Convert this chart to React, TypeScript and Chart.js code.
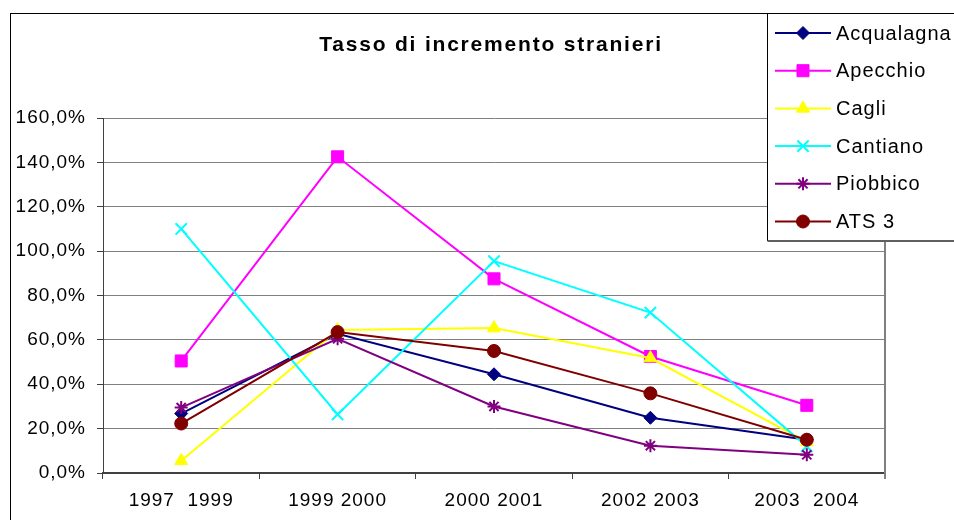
import React, { useEffect, useRef } from 'react';
import { Chart, registerables } from 'chart.js';
import { drawPoint } from 'chart.js/helpers';

Chart.register(...registerables);

const categories = ['1997  1999', '1999 2000', '2000 2001', '2002 2003', '2003  2004'];
const seriesNames = ['Acqualagna', 'Apecchio', 'Cagli', 'Cantiano', 'Piobbico', 'ATS 3'];
const acqualagna = [26.8, 62.7, 44.5, 24.9, 15.0];
const apecchio = [50.5, 142.5, 87.5, 52.5, 30.5];
const cagli = [5.5, 64.5, 65.3, 51.8, 14.0];
const cantiano = [110.0, 26.4, 95.5, 72.3, 12.0];
const piobbico = [29.5, 60.5, 30.0, 12.3, 8.2];
const ats3 = [22.3, 63.5, 55.0, 35.9, 15.0];
const yMin = 0;
const yMax = 160;
const yStep = 20;
const titleText = 'Tasso di incremento stranieri';

const FONT = "'Liberation Sans', Arial, sans-serif";

const seriesValues = [acqualagna, apecchio, cagli, cantiano, piobbico, ats3];
const seriesColors = ['#000080', '#FF00FF', '#FFFF00', '#00FFFF', '#800080', '#800000'];
const seriesStyles = ['rectRot', 'rect', 'triangle', 'crossRot', 'star', 'circle'];
const seriesRadius = [6.5, 8.5, 7.5, 8, 6.5, 6.5];
const seriesPointBorder = [1, 1, 1, 2, 2, 1];

const decorPlugin = {
  id: 'decor',
  beforeDraw(chart: any) {
    const ctx = chart.ctx;
    ctx.save();
    ctx.fillStyle = '#ffffff';
    ctx.fillRect(0, 0, chart.width, chart.height);
    ctx.strokeStyle = '#000000';
    ctx.lineWidth = 1;
    ctx.strokeRect(10.5, 13.5, chart.width + 10, chart.height + 10);
    ctx.restore();
    (ctx as any).letterSpacing = '1px';
  },
  beforeDatasetsDraw(chart: any) {
    const ctx = chart.ctx;
    const a = chart.chartArea;
    ctx.save();
    ctx.strokeStyle = '#808080';
    ctx.lineWidth = 2;
    ctx.beginPath();
    ctx.moveTo(a.right, a.top);
    ctx.lineTo(a.right, a.bottom + 6);
    ctx.stroke();
    ctx.restore();
  },
  afterDraw(chart: any) {
    const ctx = chart.ctx;
    ctx.save();
    // title
    (ctx as any).letterSpacing = '1.8px';
    ctx.fillStyle = '#000000';
    ctx.font = `bold 21px ${FONT}`;
    ctx.textAlign = 'center';
    ctx.textBaseline = 'middle';
    ctx.fillText(titleText, 491, 45);
    // legend box
    const lx = 767.5, ly = 13.5, lw = 200, lh = 227;
    ctx.fillStyle = '#ffffff';
    ctx.fillRect(lx, ly, lw, lh);
    ctx.strokeStyle = '#000000';
    ctx.lineWidth = 1;
    ctx.strokeRect(lx, ly, lw, lh);
    ctx.strokeStyle = '#606060';
    ctx.lineWidth = 2;
    ctx.beginPath();
    ctx.moveTo(lx, ly + lh + 0.5);
    ctx.lineTo(lx + lw, ly + lh + 0.5);
    ctx.stroke();
    (ctx as any).letterSpacing = '1px';
    ctx.font = `20px ${FONT}`;
    ctx.textAlign = 'left';
    ctx.textBaseline = 'middle';
    chart.data.datasets.forEach((ds: any, i: number) => {
      const y = 33 + i * 37.7;
      ctx.strokeStyle = ds.borderColor;
      ctx.lineWidth = 2;
      ctx.beginPath();
      ctx.moveTo(775, y);
      ctx.lineTo(831, y);
      ctx.stroke();
      ctx.fillStyle = ds.pointBackgroundColor;
      ctx.strokeStyle = ds.pointBorderColor;
      ctx.lineWidth = ds.pointBorderWidth;
      drawPoint(ctx, { pointStyle: ds.pointStyle, radius: ds.pointRadius, borderWidth: ds.pointBorderWidth, rotation: 0 } as any, 803, y);
      ctx.fillStyle = '#000000';
      ctx.fillText(ds.label, 836, y + 1);
    });
    ctx.restore();
  },
};

export default function App() {
  const ref = useRef<HTMLCanvasElement | null>(null);
  useEffect(() => {
    document.body.style.margin = '0';
    const canvas = ref.current!;
    const chart = new Chart(canvas, {
      type: 'line',
      data: {
        labels: categories,
        datasets: seriesNames.map((name, i) => ({
          label: name,
          data: seriesValues[i],
          borderColor: seriesColors[i],
          backgroundColor: seriesColors[i],
          pointBackgroundColor: seriesColors[i],
          pointBorderColor: seriesColors[i],
          pointStyle: seriesStyles[i] as any,
          pointRadius: seriesRadius[i],
          pointBorderWidth: seriesPointBorder[i],
          borderWidth: 2,
          tension: 0,
          fill: false,
          order: seriesNames.length - i,
        })),
      },
      options: {
        animation: false,
        responsive: false,
        devicePixelRatio: 1,
        layout: { padding: { top: 118, right: 69, left: 0, bottom: 0 } },
        plugins: {
          legend: { display: false },
          title: { display: false },
          tooltip: { enabled: false },
        },
        scales: {
          x: {
            type: 'category',
            offset: true,
            grid: {
              display: true,
              drawOnChartArea: false,
              offset: true,
              tickLength: 6,
              tickColor: '#404040',
            },
            border: { display: true, color: '#404040', width: 2 },
            ticks: {
              color: '#000000',
              font: { family: FONT, size: 19 },
              padding: 10,
              maxRotation: 0,
              autoSkip: false,
            },
            afterFit: (scale: any) => {
              scale.height = 47;
            },
          },
          y: {
            min: yMin,
            max: yMax,
            grid: {
              color: '#808080',
              lineWidth: 1,
              tickLength: 6,
              tickColor: '#404040',
            },
            border: { display: true, color: '#404040', width: 1 },
            ticks: {
              stepSize: yStep,
              color: '#000000',
              font: { family: FONT, size: 19 },
              padding: 11,
              callback: (v: any) => Number(v).toFixed(1).replace('.', ',') + '%',
            },
            afterFit: (scale: any) => {
              scale.width = 103;
            },
          },
        },
      },
      plugins: [decorPlugin],
    });
    return () => chart.destroy();
  }, []);
  return <canvas ref={ref} width={954} height={520} style={{ display: 'block' }} />;
}
